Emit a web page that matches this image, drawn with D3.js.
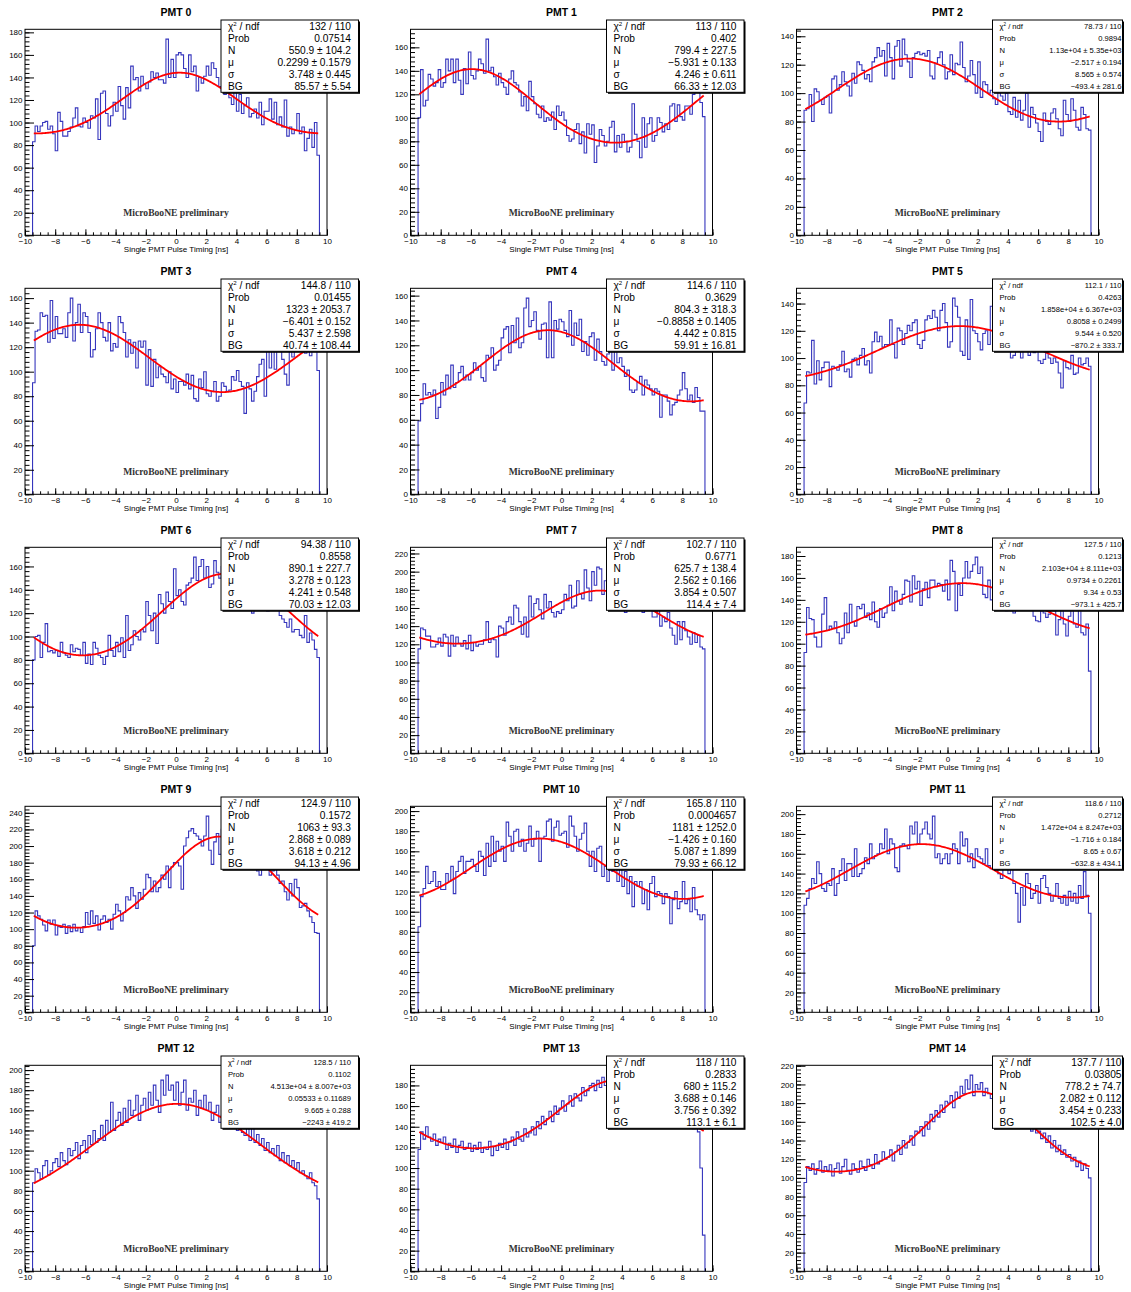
<!DOCTYPE html>
<html>
<head>
<meta charset="utf-8">
<script src="https://cdn.jsdelivr.net/npm/d3@7"></script>
<style>
  body { margin: 0; background: #fff; }
  svg { display: block; font-family: "Liberation Sans", Arial, sans-serif; }
</style>
</head>
<body>
<svg id="chart" width="1131" height="1292"></svg>
<script>
// --- данни ---
const pmtNames = ["PMT 0","PMT 1","PMT 2","PMT 3","PMT 4","PMT 5","PMT 6","PMT 7",
  "PMT 8","PMT 9","PMT 10","PMT 11","PMT 12","PMT 13","PMT 14"];

const xTicks = [-10, -8, -6, -4, -2, 0, 2, 4, 6, 8, 10];

// 114 бина от -9.5 до 9.5 ns, ширина 1/6 ns
const pmt0 = [83, 97, 92, 97, 100, 101, 94, 97, 90,
  75, 109, 101, 88, 88, 92, 96, 104, 113, 97, 96, 104,
  100, 95, 106, 104, 121, 85, 126, 128, 108, 97, 106, 118,
  110, 132, 115, 103, 131, 113, 150, 138, 140, 128, 141, 134,
  130, 136, 145, 140, 144, 138, 138, 135, 174, 140, 156, 140,
  160, 162, 160, 148, 140, 160, 145, 150, 128, 140, 135, 141,
  150, 142, 153, 148, 140, 132, 128, 125, 135, 122, 116, 128,
  110, 125, 108, 115, 122, 105, 108, 112, 104, 118, 98, 110,
  110, 121, 103, 118, 98, 105, 96, 120, 88, 96, 90, 93,
  108, 90, 96, 75, 86, 94, 78, 100, 71];
const pmt1 = [100, 141, 110, 115, 137, 133, 127, 130, 141,
  126, 130, 150, 140, 150, 130, 150, 132, 120, 142, 129, 156,
  136, 133, 140, 150, 146, 138, 167, 140, 143, 135, 128, 138,
  130, 126, 120, 133, 140, 130, 128, 122, 110, 118, 106, 131,
  118, 112, 103, 100, 110, 97, 100, 98, 105, 90, 110, 102,
  105, 98, 85, 80, 82, 90, 95, 78, 88, 70, 95, 86,
  94, 62, 76, 90, 85, 76, 80, 92, 97, 71, 85, 75,
  86, 80, 71, 75, 112, 86, 80, 66, 100, 75, 95, 100,
  80, 85, 100, 96, 88, 95, 90, 110, 112, 97, 111, 101,
  98, 110, 110, 103, 120, 128, 125, 113, 101];
const pmt2 = [88, 89, 99, 80, 103, 101, 95, 92, 97,
  98, 86, 110, 112, 102, 106, 115, 108, 105, 98, 114, 107,
  122, 120, 116, 110, 113, 108, 122, 125, 132, 126, 130, 112,
  135, 125, 110, 133, 137, 119, 138, 127, 122, 111, 125, 128,
  129, 127, 128, 126, 130, 112, 110, 121, 125, 129, 120, 110,
  115, 127, 113, 121, 120, 136, 118, 108, 112, 123, 113, 100,
  122, 97, 108, 106, 100, 102, 96, 92, 102, 98, 95, 100,
  87, 85, 97, 83, 95, 81, 88, 100, 76, 90, 85, 79,
  73, 66, 86, 80, 78, 86, 89, 82, 75, 70, 95, 85,
  80, 96, 88, 76, 74, 90, 85, 75, 74];
const pmt3 = [91, 133, 134, 148, 145, 146, 124, 158, 127,
  145, 131, 131, 135, 128, 148, 160, 125, 140, 155, 132, 148,
  145, 132, 112, 118, 135, 148, 140, 128, 125, 140, 117, 123,
  120, 145, 140, 132, 112, 126, 115, 124, 103, 125, 120, 125,
  89, 118, 88, 110, 95, 104, 98, 96, 91, 100, 86, 94,
  83, 92, 92, 89, 98, 86, 97, 78, 76, 94, 87, 100,
  82, 80, 84, 92, 76, 80, 91, 88, 84, 85, 96, 93,
  101, 92, 88, 66, 91, 86, 76, 84, 96, 106, 110, 80,
  120, 103, 118, 102, 128, 121, 110, 98, 89, 122, 112, 128,
  138, 124, 130, 115, 121, 113, 120, 130, 101];
const pmt4 = [59, 73, 89, 80, 82, 80, 84, 61, 70,
  90, 80, 96, 85, 104, 86, 90, 98, 103, 92, 96, 92,
  98, 106, 100, 103, 94, 91, 112, 110, 118, 100, 104, 108,
  126, 133, 135, 114, 136, 122, 142, 118, 122, 150, 158, 135,
  140, 147, 132, 125, 137, 138, 110, 155, 110, 140, 133, 141,
  139, 132, 127, 148, 120, 138, 128, 141, 115, 123, 112, 127,
  130, 108, 125, 115, 107, 104, 113, 116, 100, 121, 106, 110,
  103, 95, 100, 84, 82, 84, 90, 95, 80, 92, 88, 85,
  80, 85, 83, 62, 80, 80, 75, 64, 72, 74, 80, 84,
  98, 85, 76, 80, 74, 86, 78, 67, 67];
const pmt5 = [67, 90, 89, 113, 81, 98, 84, 93, 97,
  97, 79, 94, 93, 91, 95, 105, 90, 92, 86, 99, 100,
  95, 102, 107, 95, 98, 89, 112, 119, 112, 116, 108, 110,
  110, 128, 110, 100, 122, 120, 110, 118, 124, 120, 126, 128,
  110, 107, 113, 128, 131, 129, 135, 130, 120, 135, 140, 126,
  108, 112, 144, 138, 130, 105, 102, 128, 99, 143, 120, 118,
  112, 106, 118, 120, 110, 138, 108, 127, 115, 121, 105, 118,
  108, 100, 102, 106, 112, 100, 115, 110, 102, 120, 104, 112,
  98, 96, 99, 104, 100, 96, 100, 97, 89, 78, 98, 93,
  92, 102, 88, 89, 100, 95, 96, 100, 94];
const pmt6 = [80, 100, 101, 82, 95, 111, 87, 88, 86,
  88, 83, 95, 86, 84, 82, 93, 87, 90, 89, 84, 95,
  77, 85, 76, 95, 90, 84, 82, 76, 83, 101, 88, 83,
  95, 87, 99, 82, 118, 88, 93, 105, 100, 97, 106, 104,
  130, 118, 105, 120, 94, 136, 128, 120, 138, 130, 124, 158,
  135, 140, 130, 127, 144, 146, 150, 168, 148, 160, 166, 150,
  160, 142, 145, 165, 155, 150, 160, 152, 148, 143, 138, 150,
  145, 140, 135, 138, 130, 132, 120, 125, 135, 130, 128, 130,
  122, 125, 135, 130, 123, 118, 115, 112, 108, 115, 104, 106,
  106, 101, 99, 118, 95, 103, 97, 89, 82];
const pmt7 = [115, 138, 136, 129, 129, 117, 117, 120, 127,
  118, 131, 128, 107, 130, 118, 128, 121, 118, 124, 115, 130,
  113, 122, 118, 120, 120, 125, 145, 122, 126, 125, 106, 140,
  138, 130, 145, 150, 142, 163, 160, 145, 131, 150, 128, 173,
  150, 165, 170, 158, 148, 175, 160, 167, 155, 150, 156, 154,
  158, 175, 168, 185, 160, 162, 190, 175, 170, 202, 182, 168,
  200, 185, 205, 203, 175, 190, 170, 180, 165, 175, 160, 170,
  160, 155, 216, 160, 158, 170, 162, 160, 155, 168, 160, 158,
  150, 150, 160, 140, 150, 145, 155, 138, 130, 120, 145, 125,
  145, 135, 128, 120, 133, 122, 130, 117, 115];
const pmt8 = [92, 133, 123, 122, 106, 97, 97, 127, 142,
  112, 116, 114, 120, 110, 100, 105, 128, 110, 136, 120, 116,
  134, 132, 136, 124, 128, 122, 138, 120, 115, 132, 124, 128,
  135, 152, 130, 148, 139, 136, 145, 158, 157, 138, 162, 150,
  157, 135, 150, 156, 142, 158, 158, 152, 155, 154, 148, 158,
  140, 176, 166, 130, 154, 144, 160, 175, 160, 166, 172, 179,
  164, 170, 145, 142, 158, 140, 144, 150, 136, 132, 140, 130,
  138, 130, 128, 150, 140, 135, 145, 140, 148, 132, 125, 121,
  120, 130, 128, 124, 127, 135, 130, 108, 122, 132, 118, 107,
  125, 132, 118, 115, 134, 110, 108, 118, 75];
const pmt9 = [80, 122, 116, 112, 105, 98, 111, 106, 111,
  93, 103, 102, 106, 95, 104, 97, 106, 98, 102, 96, 103,
  120, 106, 122, 107, 116, 99, 112, 116, 108, 112, 100, 118,
  130, 122, 110, 120, 139, 135, 150, 140, 125, 144, 136, 148,
  166, 162, 145, 158, 145, 150, 165, 160, 176, 150, 175, 180,
  180, 176, 148, 200, 210, 218, 221, 215, 212, 208, 200, 212,
  236, 195, 178, 205, 215, 190, 220, 210, 205, 200, 195, 210,
  200, 195, 190, 205, 185, 195, 180, 190, 170, 165, 185, 180,
  178, 165, 170, 178, 165, 155, 158, 145, 135, 155, 140, 160,
  150, 126, 128, 131, 122, 115, 108, 96, 95];
const pmt10 = [85, 115, 123, 145, 128, 130, 140, 125, 130,
  122, 122, 138, 130, 145, 118, 140, 150, 155, 138, 150, 150,
  152, 145, 140, 160, 155, 136, 168, 145, 175, 150, 170, 160,
  165, 150, 189, 175, 160, 180, 182, 165, 172, 160, 168, 185,
  165, 172, 180, 150, 173, 175, 190, 192, 170, 184, 190, 176,
  178, 180, 164, 195, 185, 175, 160, 172, 178, 188, 160, 145,
  160, 140, 163, 165, 135, 145, 130, 150, 140, 155, 130, 145,
  125, 140, 118, 135, 105, 130, 125, 130, 108, 122, 102, 128,
  135, 115, 120, 118, 108, 118, 115, 88, 112, 120, 103, 110,
  130, 108, 112, 100, 124, 102, 97, 92, 97];
const pmt11 = [108, 115, 125, 135, 130, 152, 140, 125, 122,
  130, 128, 145, 118, 130, 143, 155, 133, 150, 150, 137, 165,
  137, 140, 145, 156, 150, 170, 155, 158, 160, 170, 165, 185,
  160, 175, 170, 146, 142, 168, 170, 168, 165, 188, 180, 192,
  170, 180, 185, 192, 180, 175, 198, 156, 160, 150, 155, 160,
  150, 160, 170, 165, 150, 182, 168, 175, 152, 160, 146, 165,
  157, 155, 150, 165, 148, 145, 168, 165, 140, 135, 158, 150,
  140, 145, 130, 120, 91, 126, 108, 140, 130, 115, 120, 128,
  110, 135, 138, 126, 120, 112, 118, 130, 115, 110, 118, 108,
  122, 112, 120, 110, 128, 115, 142, 118, 100];
const pmt12 = [88, 102, 98, 92, 105, 110, 96, 100, 108,
  112, 104, 118, 110, 106, 122, 115, 120, 128, 112, 125, 130,
  118, 135, 126, 140, 128, 132, 145, 130, 150, 138, 168, 140,
  150, 158, 145, 162, 148, 170, 155, 160, 175, 150, 165, 172,
  160, 178, 165, 185, 170, 158, 190, 175, 195, 180, 185, 170,
  188, 165, 178, 190, 160, 172, 168, 180, 155, 170, 162, 175,
  160, 168, 150, 158, 165, 148, 155, 160, 142, 150, 145, 155,
  140, 148, 138, 135, 150, 130, 142, 128, 136, 125, 132, 120,
  128, 118, 122, 115, 125, 110, 118, 108, 115, 105, 110, 102,
  108, 98, 100, 95, 92, 98, 88, 85, 72];
const pmt13 = [118, 135, 128, 140, 130, 126, 133, 122, 128,
  125, 130, 118, 124, 120, 128, 115, 122, 126, 118, 120, 124,
  116, 122, 118, 125, 115, 120, 118, 126, 112, 121, 117, 124,
  120, 128, 118, 125, 130, 122, 135, 128, 126, 138, 130, 134,
  140, 132, 145, 138, 150, 142, 148, 155, 145, 160, 152, 158,
  165, 155, 162, 170, 160, 172, 168, 165, 178, 170, 175, 180,
  182, 175, 185, 178, 188, 180, 185, 182, 190, 184, 186, 183,
  185, 180, 182, 178, 184, 175, 180, 176, 178, 172, 175, 170,
  172, 168, 165, 170, 160, 165, 158, 155, 160, 150, 155, 148,
  150, 145, 142, 140, 138, 142, 135, 100, 35];
const pmt14 = [95, 112, 108, 115, 104, 110, 118, 106, 112,
  108, 114, 102, 110, 116, 105, 112, 120, 108, 104, 115, 110,
  106, 118, 112, 108, 120, 114, 110, 125, 115, 118, 128, 120,
  122, 130, 118, 128, 135, 125, 140, 132, 138, 145, 135, 150,
  148, 155, 145, 160, 152, 168, 160, 172, 165, 178, 170, 182,
  180, 188, 175, 192, 185, 198, 190, 205, 195, 210, 188, 200,
  195, 202, 188, 196, 190, 185, 192, 180, 186, 178, 182, 175,
  175, 170, 178, 165, 172, 160, 168, 155, 162, 150, 158, 148,
  150, 142, 148, 138, 145, 132, 140, 128, 135, 125, 130, 122,
  125, 118, 122, 112, 118, 108, 115, 110, 100];

const histograms = [pmt0, pmt1, pmt2, pmt3, pmt4, pmt5, pmt6, pmt7,
  pmt8, pmt9, pmt10, pmt11, pmt12, pmt13, pmt14];

// параметри на фита
const fitN = [550.9, 799.4, 11300, 1323, 804.3, 18580, 890.1, 625.7, 21030, 1063, 1181, 14720, 45130, 680, 778.2];
const fitMu = [0.2299, -5.931, -2.517, -6.401, -0.8858, 0.8058, 3.278, 2.562, 0.9734, 2.868, -1.426, -1.716, 0.05533, 3.688, 2.082];
const fitSigma = [3.748, 4.246, 8.565, 5.437, 4.442, 9.544, 4.241, 3.854, 9.34, 3.618, 5.087, 8.65, 9.665, 3.756, 3.454];
const fitBG = [85.57, 66.33, -493.4, 40.74, 59.91, -870.2, 70.03, 114.4, -973.1, 94.13, 79.93, -632.8, -2243, 113.1, 102.5];

// текстове в статистическата кутия
const chi2Text = ["132 / 110", "113 / 110", "78.73 / 110", "144.8 / 110", "114.6 / 110", "112.1 / 110", "94.38 / 110", "102.7 / 110",
  "127.5 / 110", "124.9 / 110", "165.8 / 110", "118.6 / 110", "128.5 / 110", "118 / 110", "137.7 / 110"];
const probText = ["0.07514", "0.402", "0.9894", "0.01455", "0.3629", "0.4263", "0.8558", "0.6771",
  "0.1213", "0.1572", "0.0004657", "0.2712", "0.1102", "0.2833", "0.03805"];
const nText = ["550.9 ± 104.2", "799.4 ± 227.5", "1.13e+04 ± 5.35e+03", "1323 ± 2053.7", "804.3 ± 318.3",
  "1.858e+04 ± 6.367e+03", "890.1 ± 227.7", "625.7 ± 138.4", "2.103e+04 ± 8.111e+03", "1063 ± 93.3",
  "1181 ± 1252.0", "1.472e+04 ± 8.247e+03", "4.513e+04 ± 8.007e+03", "680 ± 115.2", "778.2 ± 74.7"];
const muText = ["0.2299 ± 0.1579", "−5.931 ± 0.133", "−2.517 ± 0.194", "−6.401 ± 0.152", "−0.8858 ± 0.1405",
  "0.8058 ± 0.2499", "3.278 ± 0.123", "2.562 ± 0.166", "0.9734 ± 0.2261", "2.868 ± 0.089",
  "−1.426 ± 0.160", "−1.716 ± 0.184", "0.05533 ± 0.11689", "3.688 ± 0.146", "2.082 ± 0.112"];
const sigmaText = ["3.748 ± 0.445", "4.246 ± 0.611", "8.565 ± 0.574", "5.437 ± 2.598", "4.442 ± 0.815",
  "9.544 ± 0.520", "4.241 ± 0.548", "3.854 ± 0.507", "9.34 ± 0.53", "3.618 ± 0.212",
  "5.087 ± 1.899", "8.65 ± 0.67", "9.665 ± 0.288", "3.756 ± 0.392", "3.454 ± 0.233"];
const bgText = ["85.57 ± 5.54", "66.33 ± 12.03", "−493.4 ± 281.6", "40.74 ± 108.44", "59.91 ± 16.81",
  "−870.2 ± 333.7", "70.03 ± 12.03", "114.4 ± 7.4", "−973.1 ± 425.7", "94.13 ± 4.96",
  "79.93 ± 66.12", "−632.8 ± 434.1", "−2243 ± 419.2", "113.1 ± 6.1", "102.5 ± 4.0"];

// --- оформление ---
const colLeft = [25, 410.5, 796.5];
const frameW = 302, frameH = 206, rowTop0 = 29.3, rowStep = 259;
const binStart = -9.5, binWidth = 1 / 6;
const period = 18.936; // период на снопчетата (ns)
const histColor = "#3636bd";

// BG + три гауса, отместени с един период
function fitValue(i, t) {
  const amp = fitN[i] / (fitSigma[i] * Math.sqrt(2 * Math.PI));
  let s = fitBG[i];
  for (let k = -1; k <= 1; k++) {
    const d = (t - fitMu[i] - k * period) / fitSigma[i];
    s += amp * Math.exp(-0.5 * d * d);
  }
  return s;
}

const fmtTick = (d) => (d < 0 ? "\u2212" + Math.abs(d) : String(d));
const svg = d3.select("#chart");

histograms.forEach((bins, i) => {
  const col = i % 3, row = Math.floor(i / 3);
  const left = colLeft[col], top = rowTop0 + row * rowStep;
  const right = left + frameW, bottom = top + frameH, mid = (left + right) / 2;
  const yMax = 1.05 * d3.max(bins);

  const x = d3.scaleLinear().domain([-10, 10]).range([left, right]);
  const y = d3.scaleLinear().domain([0, yMax]).range([bottom, top]);
  const g = svg.append("g");

  // хистограма
  const pts = [[binStart, 0]];
  bins.forEach((v, j) => pts.push([binStart + j * binWidth, v]));
  const binEnd = binStart + bins.length * binWidth;
  pts.push([binEnd, bins[bins.length - 1]]);
  pts.push([binEnd, 0]);
  const step = d3.line().x((d) => x(d[0])).y((d) => y(d[1])).curve(d3.curveStepAfter);
  g.append("path")
    .attr("d", step(pts))
    .attr("fill", "none")
    .attr("stroke", histColor)
    .attr("stroke-width", 1.1);

  // фит
  const c0 = binStart + binWidth / 2, c1 = binEnd - binWidth / 2;
  const fitPts = d3.range(0, 241).map((k) => {
    const t = c0 + ((c1 - c0) * k) / 240;
    return [t, fitValue(i, t)];
  });
  g.append("path")
    .attr("d", d3.line().x((d) => x(d[0])).y((d) => y(d[1]))(fitPts))
    .attr("fill", "none")
    .attr("stroke", "#ff0000")
    .attr("stroke-width", 1.8);

  // оси
  const styleAxis = (a) => {
    a.select(".domain").remove();
    a.attr("font-size", 8).attr("font-family", "'Liberation Sans', Arial, sans-serif");
  };
  g.append("g")
    .attr("transform", `translate(0,${bottom})`)
    .call(d3.axisBottom(x).tickValues(d3.range(-10, 10.01, 0.5)).tickFormat("").tickSizeInner(-3).tickSizeOuter(0))
    .call(styleAxis);
  g.append("g")
    .attr("transform", `translate(0,${bottom})`)
    .call(d3.axisBottom(x).tickValues(xTicks).tickFormat(fmtTick).tickSizeInner(-6).tickSizeOuter(0).tickPadding(3.5))
    .call(styleAxis);
  g.append("g")
    .attr("transform", `translate(${left},0)`)
    .call(d3.axisLeft(y).tickValues(d3.range(0, yMax, 4)).tickFormat("").tickSizeInner(-4.5).tickSizeOuter(0))
    .call(styleAxis);
  g.append("g")
    .attr("transform", `translate(${left},0)`)
    .call(d3.axisLeft(y).tickValues(d3.range(0, yMax, 20)).tickFormat(fmtTick).tickSizeInner(-9).tickSizeOuter(0).tickPadding(2.5))
    .call(styleAxis);

  g.append("rect")
    .attr("x", left).attr("y", top)
    .attr("width", frameW).attr("height", frameH)
    .attr("fill", "none").attr("stroke", "#000").attr("stroke-width", 1);

  // надписи
  g.append("text")
    .attr("x", mid).attr("y", top - 13.5)
    .attr("text-anchor", "middle")
    .attr("font-size", 10.5).attr("font-weight", "bold")
    .text(pmtNames[i]);

  g.append("text")
    .attr("x", mid).attr("y", bottom + 16.5)
    .attr("text-anchor", "middle")
    .attr("font-size", 8)
    .text("Single PMT Pulse Timing [ns]");

  g.append("text")
    .attr("x", mid).attr("y", bottom - 19.5)
    .attr("text-anchor", "middle")
    .attr("font-family", "'Liberation Serif', 'Times New Roman', serif")
    .attr("font-weight", "bold")
    .attr("font-size", 9.6)
    .attr("fill", "#333")
    .text("MicroBooNE preliminary");

  // статистическа кутия
  const small = nText[i].includes("e+");
  const fs = small ? 7.6 : 10.2;
  const boxL = right - 106;
  const boxR = Math.min(right + 31.5, 1122.5);
  const boxT = top - 9.3, boxH = 72.3;
  g.append("rect")
    .attr("x", boxL + 1.5).attr("y", boxT + 1.5)
    .attr("width", boxR - boxL).attr("height", boxH)
    .attr("fill", "#000");
  g.append("rect")
    .attr("x", boxL).attr("y", boxT)
    .attr("width", boxR - boxL).attr("height", boxH)
    .attr("fill", "#fff").attr("stroke", "#000").attr("stroke-width", 1);

  const labels = ["chi", "Prob", "N", "μ", "σ", "BG"];
  const values = [chi2Text[i], probText[i], nText[i], muText[i], sigmaText[i], bgText[i]];
  const valX = Math.min(right + 24, 1121.5);
  labels.forEach((lab, k) => {
    const yy = boxT + 6.7 + 12 * k + fs * 0.35;
    const t = g.append("text").attr("x", boxL + 7).attr("y", yy).attr("font-size", fs);
    if (lab === "chi") {
      t.append("tspan").text("χ");
      t.append("tspan").attr("font-size", fs * 0.6).attr("dy", -fs * 0.4).text("2");
      t.append("tspan").attr("dy", fs * 0.4).text(" / ndf");
    } else {
      t.text(lab);
    }
    g.append("text")
      .attr("x", valX).attr("y", yy)
      .attr("text-anchor", "end")
      .attr("font-size", fs)
      .text(values[k]);
  });
});
</script>
</body>
</html>
